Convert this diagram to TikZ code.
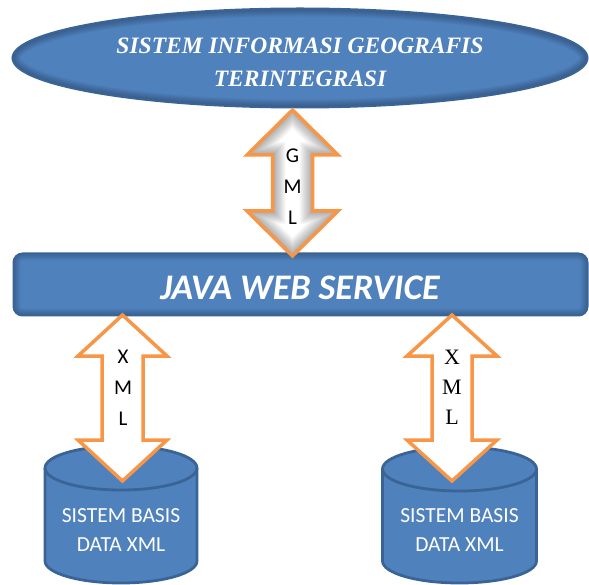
\documentclass[tikz,border=0pt]{standalone}
\usepackage{fontspec}
\setmainfont{Liberation Serif}
\newfontfamily\carlito{Carlito}
\usetikzlibrary{calc,shapes.geometric}

\definecolor{boxblue}{HTML}{4F81BD}
\definecolor{boxedge}{HTML}{3A6496}
\definecolor{arroworange}{HTML}{F79646}

\tikzset{
  % double-headed block arrow: top tip, bottom tip, head half width, shaft half width, head length
  dblarrow/.style n args={5}{insert path={
    (#1) -- ++(#3,#5) -- ++({#4-#3},0) -- ($(#2)+(#4,-#5)$) -- ++({#3-#4},0)
    -- (#2) -- ++(-#3,-#5) -- ++({#3-#4},0) -- ($(#1)+(-#4,#5)$) -- ++({#4-#3},0) -- cycle}},
  arrowline/.style={draw=arroworange, line width=3.5pt, line join=miter},
  titletext/.style={text=white, align=center, inner sep=0pt,
    font=\fontsize{23.5}{33}\selectfont\bfseries\itshape},
  jwstext/.style={text=white, inner sep=0pt,
    font=\carlito\fontsize{36}{38}\selectfont\bfseries\itshape},
  dbtext/.style={text=white, align=center, inner sep=0pt,
    font=\carlito\fontsize{21.5}{29}\selectfont},
  sanslabel/.style={align=center, inner sep=0pt,
    font=\carlito\fontsize{21}{31}\selectfont},
  seriflabel/.style={align=center, inner sep=0pt,
    font=\fontsize{22}{30}\selectfont},
  cylfill/.style={fill=boxblue, draw=boxedge, line width=2.8pt},
}

% cylinder: centre x, x radius, top ellipse y, bottom ellipse y, y radius
\newcommand\dbcylinder[5]{%
  \path[cylfill] (#1-#2,#3) -- (#1-#2,#4)
    arc[start angle=180, end angle=360, x radius=#2pt, y radius=#5pt]
    -- (#1+#2,#3)
    arc[start angle=0, end angle=180, x radius=#2pt, y radius=#5pt] -- cycle;
  \draw[draw=boxedge, line width=2.8pt] (#1-#2,#3)
    arc[start angle=180, end angle=360, x radius=#2pt, y radius=#5pt];
}

\begin{document}
\begin{tikzpicture}[x=1pt, y=-1pt]
\useasboundingbox (0,0) rectangle (589,585);

% top ellipse with an inner rim shadow
\node[ellipse, fill=boxblue, draw=boxedge, line width=2pt,
  minimum width=575pt, minimum height=99pt, inner sep=0pt,
  path picture={
    \foreach \w in {2,4,...,16}{
      \draw[black, line width=\w pt, opacity=0.035]
        (path picture bounding box.center) ellipse [x radius=287.5pt, y radius=49.5pt];}
  }] (gis) at (300,58) {};
\node[titletext] (gistext) at (300,62) {SISTEM INFORMASI GEOGRAFIS\\TERINTEGRASI};

% middle service bar
\node[rectangle, rounded corners=9pt, fill=boxblue, draw=boxedge, line width=2pt,
  minimum width=574pt, minimum height=62pt, inner sep=0pt,
  path picture={
    \foreach \w in {2,4,...,14}{
      \draw[black, line width=\w pt, opacity=0.03, rounded corners=9pt]
        (path picture bounding box.south west) rectangle (path picture bounding box.north east);}
  }] (jws) at (300.5,284.5) {};
\node[jwstext] (jwstext) at (300,288) {JAVA WEB SERVICE};

% databases
\dbcylinder{121}{76}{468}{561}{22}
\dbcylinder{459.5}{77}{469}{561}{22}
\node[dbtext] (db1) at (121,530) {SISTEM BASIS\\DATA XML};
\node[dbtext] (db2) at (459.5,530) {SISTEM BASIS\\DATA XML};

% arrow end points
\coordinate (gT) at (292.5,110);
\coordinate (gB) at (292.5,256);
\coordinate (x1T) at (122.5,315);
\coordinate (x1B) at (122.5,481);
\coordinate (x2T) at (452,315);
\coordinate (x2B) at (452,481);

% GML arrow with soft grey inner shading
\fill[white, dblarrow={gT}{gB}{45.5}{20}{45}];
\begin{scope}
  \clip[dblarrow={gT}{gB}{45.5}{20}{45}];
  \foreach \w in {2,4,...,26}{
    \draw[black, line width=\w pt, opacity=0.028, line join=miter, dblarrow={gT}{gB}{45.5}{20}{45}];}
\end{scope}
\draw[arrowline, dblarrow={gT}{gB}{45.5}{20}{45}];
\node[sanslabel] (gml) at (292.5,187) {G\\M\\L};

% XML arrows
\draw[arrowline, fill=white, dblarrow={x1T}{x1B}{44.5}{20.5}{41}];
\node[sanslabel] (xml1) at (123,388) {X\\M\\L};
\draw[arrowline, fill=white, dblarrow={x2T}{x2B}{45}{20}{41}];
\node[seriflabel] (xml2) at (452,387) {X\\M\\L};
\end{tikzpicture}
\end{document}
